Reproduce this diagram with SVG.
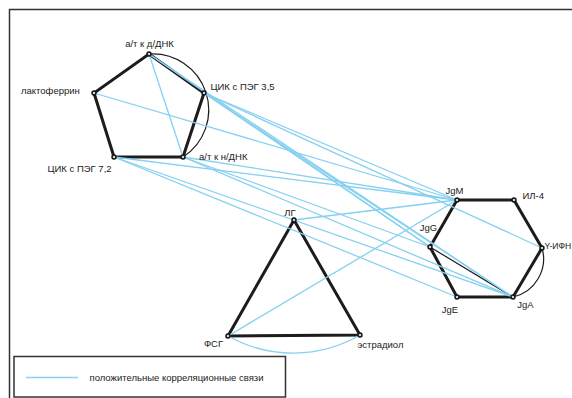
<svg xmlns="http://www.w3.org/2000/svg" width="572" height="398" viewBox="0 0 572 398">
<style>
.t{font-family:"Liberation Sans",Arial,sans-serif;font-size:9.5px;fill:#222}
.e{stroke:#1c1c1c;stroke-width:3;stroke-linecap:round;fill:none}
.k{stroke:#1c1c1c;stroke-width:1.2;fill:none}
.b{stroke:#86d0f0;stroke-width:1.3;fill:none}
.n{fill:#cfcfcf;stroke:#111;stroke-width:1.4}
</style>
<rect width="572" height="398" fill="#fff"/>
<rect x="9.5" y="9.5" width="600" height="420" fill="none" stroke="#333" stroke-width="1.5"/>
<g id="connectors">
<g id="edges">
<polygon class="e" points="149,54 204,93 183,157 114,157 94,93"/>
<polygon class="e" points="457,200 514,200 542,248 513,297 457,297 430,247"/>
<polygon class="e" points="294,220 360,335 228,336"/>
<path class="k" d="M149,54 A56,56 0 0,1 183,157"/>
<path class="k" d="M542,248 A39,39 0 0,1 513,297"/>
<line class="k" x1="430" y1="247" x2="513" y2="297"/>
</g>
<g id="positive">
<line class="b" x1="149" y1="54" x2="183" y2="157"/>
<line class="b" x1="149" y1="54" x2="513" y2="297"/>
<line class="b" x1="149" y1="54" x2="430" y2="247"/>
<line class="b" x1="204" y1="93" x2="513" y2="297"/>
<line class="b" x1="204" y1="93" x2="430" y2="247"/>
<line class="b" x1="204" y1="93" x2="542" y2="248"/>
<line class="b" x1="204" y1="93" x2="457" y2="200"/>
<line class="b" x1="94" y1="93" x2="457" y2="200"/>
<line class="b" x1="114" y1="157" x2="457" y2="200"/>
<line class="b" x1="114" y1="157" x2="457" y2="297"/>
<line class="b" x1="114" y1="157" x2="513" y2="297"/>
<line class="b" x1="183" y1="157" x2="457" y2="200"/>
<line class="b" x1="183" y1="157" x2="513" y2="297"/>
<line class="b" x1="183" y1="157" x2="430" y2="247"/>
<line class="b" x1="294" y1="220" x2="457" y2="200"/>
<line class="b" x1="228" y1="336" x2="457" y2="200"/>
<path class="b" d="M228,336 A133,133 0 0,0 360,335"/>
</g>
</g>
<g id="n-adDNK"><circle class="n" cx="149" cy="54" r="2"/><text class="t" x="149.5" y="46.5" text-anchor="middle">а/т к д/ДНК</text></g>
<g id="n-cik35"><circle class="n" cx="204" cy="93" r="2"/><text class="t" x="210.5" y="89.5">ЦИК с ПЭГ 3,5</text></g>
<g id="n-anDNK"><circle class="n" cx="183" cy="157" r="2"/><text class="t" x="199" y="160">а/т к н/ДНК</text></g>
<g id="n-cik72"><circle class="n" cx="114" cy="157" r="2"/><text class="t" x="47.5" y="171.5">ЦИК с ПЭГ 7,2</text></g>
<g id="n-lakt"><circle class="n" cx="94" cy="93" r="2"/><text class="t" x="21" y="94">лактоферрин</text></g>
<g id="n-JgM"><circle class="n" cx="457" cy="200" r="2"/><text class="t" x="454.5" y="193.5" text-anchor="middle">JgM</text></g>
<g id="n-IL4"><circle class="n" cx="514" cy="200" r="2"/><text class="t" x="522.5" y="198.5">ИЛ-4</text></g>
<g id="n-IFN"><circle class="n" cx="542" cy="248" r="2"/><text class="t" x="544.5" y="248.5" style="font-size:8.6px">Y-ИФН</text></g>
<g id="n-JgA"><circle class="n" cx="513" cy="297" r="2"/><text class="t" x="525.5" y="307.5" text-anchor="middle">JgA</text></g>
<g id="n-JgE"><circle class="n" cx="457" cy="297" r="2"/><text class="t" x="450" y="312.5" text-anchor="middle">JgE</text></g>
<g id="n-JgG"><circle class="n" cx="430" cy="247" r="2"/><text class="t" x="428.5" y="230.5" text-anchor="middle">JgG</text></g>
<g id="n-LG"><circle class="n" cx="294" cy="220" r="2"/><text class="t" x="290" y="216" text-anchor="middle">ЛГ</text></g>
<g id="n-FSG"><circle class="n" cx="228" cy="336" r="2"/><text class="t" x="213.5" y="346.5" text-anchor="middle">ФСГ</text></g>
<g id="n-estr"><circle class="n" cx="360" cy="335" r="2"/><text class="t" x="357.5" y="347.5">эстрадиол</text></g>
<g id="legend">
<rect x="14" y="356.5" width="271.5" height="40.5" fill="none" stroke="#333" stroke-width="1.5"/>
<line class="b" x1="26" y1="377.5" x2="78" y2="377.5"/>
<text class="t" x="89.5" y="380.5">положительные корреляционные связи</text>
</g>
</svg>
